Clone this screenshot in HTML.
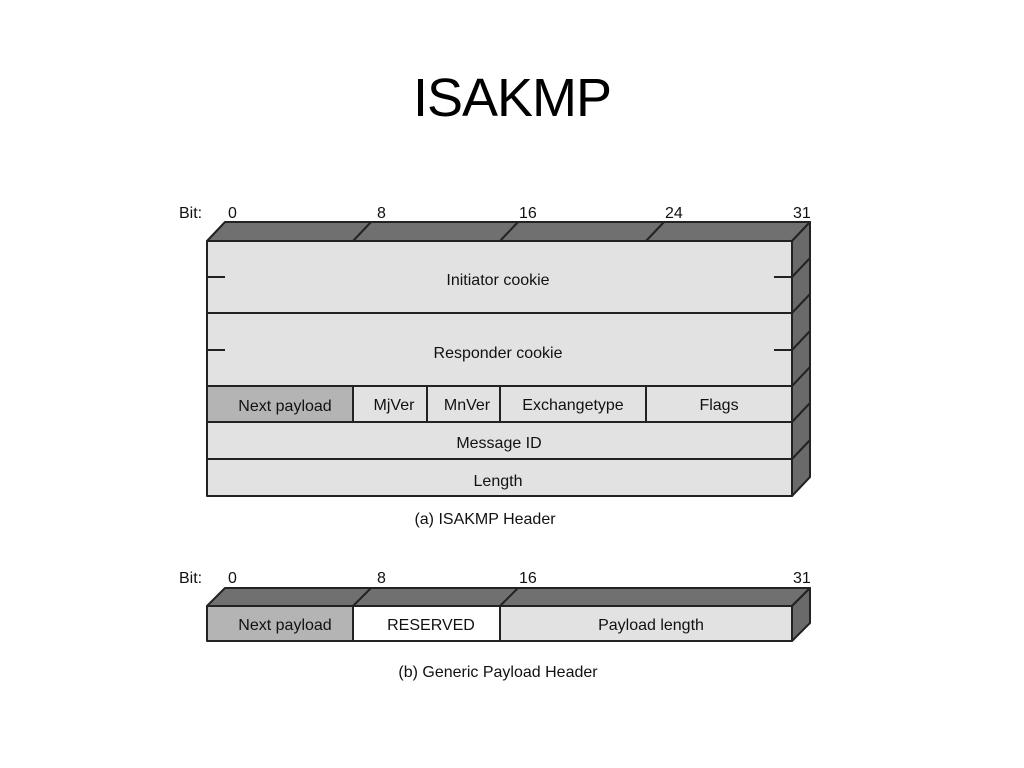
<!DOCTYPE html>
<html><head><meta charset="utf-8"><style>
html,body{margin:0;padding:0;background:#fff;}
svg{display:block}
text{font-family:"Liberation Sans",sans-serif;fill:#111;}
</style></head><body>
<svg width="1024" height="768" viewBox="0 0 1024 768">
<text x="512" y="116" font-size="54" text-anchor="middle" letter-spacing="-1" style="fill:#000">ISAKMP</text>

<!-- Diagram A -->
<g stroke="#222" stroke-width="2" stroke-linejoin="round">
  <polygon points="207,241 225,222 810,222 792,241" fill="#707070"/>
  <polygon points="792,241 810,222 810,477 792,496" fill="#6a6a6a"/>
  <rect x="207" y="241" width="585" height="255" fill="#e2e2e2"/>
  <rect x="207" y="386" width="146" height="36" fill="#b4b4b4"/>
  <line x1="207" y1="313" x2="792" y2="313"/>
  <line x1="207" y1="386" x2="792" y2="386"/>
  <line x1="207" y1="422" x2="792" y2="422"/>
  <line x1="207" y1="459" x2="792" y2="459"/>
  <line x1="353" y1="386" x2="353" y2="422"/>
  <line x1="427" y1="386" x2="427" y2="422"/>
  <line x1="500" y1="386" x2="500" y2="422"/>
  <line x1="646" y1="386" x2="646" y2="422"/>
  <line x1="353" y1="241" x2="371" y2="222"/>
  <line x1="500" y1="241" x2="518" y2="222"/>
  <line x1="646" y1="241" x2="664" y2="222"/>
  <line x1="207" y1="277" x2="225" y2="277"/>
  <line x1="207" y1="350" x2="225" y2="350"/>
  <line x1="774" y1="277" x2="792" y2="277"/>
  <line x1="774" y1="350" x2="792" y2="350"/>
  <line x1="792" y1="277" x2="810" y2="258"/>
  <line x1="792" y1="313" x2="810" y2="294"/>
  <line x1="792" y1="350" x2="810" y2="331"/>
  <line x1="792" y1="386" x2="810" y2="367"/>
  <line x1="792" y1="422" x2="810" y2="403"/>
  <line x1="792" y1="459" x2="810" y2="440"/>
</g>
<g font-size="16">
  <text x="179" y="218">Bit:</text>
  <text x="228" y="218">0</text>
  <text x="377" y="218">8</text>
  <text x="519" y="218">16</text>
  <text x="665" y="218">24</text>
  <text x="793" y="218">31</text>
  <g text-anchor="middle">
  <text x="498" y="285">Initiator cookie</text>
  <text x="498" y="358">Responder cookie</text>
  <text x="285" y="411">Next payload</text>
  <text x="394" y="410">MjVer</text>
  <text x="467" y="410">MnVer</text>
  <text x="573" y="410">Exchangetype</text>
  <text x="719" y="410">Flags</text>
  <text x="499" y="448">Message ID</text>
  <text x="498" y="486">Length</text>
  <text x="485" y="524">(a) ISAKMP Header</text>
  </g>
</g>

<!-- Diagram B -->
<g stroke="#222" stroke-width="2" stroke-linejoin="round">
  <polygon points="207,606 225,588 810,588 792,606" fill="#707070"/>
  <polygon points="792,606 810,588 810,623 792,641" fill="#6a6a6a"/>
  <rect x="207" y="606" width="146" height="35" fill="#b4b4b4"/>
  <rect x="353" y="606" width="147" height="35" fill="#fff"/>
  <rect x="500" y="606" width="292" height="35" fill="#e2e2e2"/>
  <line x1="353" y1="606" x2="371" y2="588"/>
  <line x1="500" y1="606" x2="518" y2="588"/>
</g>
<g font-size="16">
  <text x="179" y="583">Bit:</text>
  <text x="228" y="583">0</text>
  <text x="377" y="583">8</text>
  <text x="519" y="583">16</text>
  <text x="793" y="583">31</text>
  <g text-anchor="middle">
  <text x="285" y="630">Next payload</text>
  <text x="431" y="630">RESERVED</text>
  <text x="651" y="630">Payload length</text>
  <text x="498" y="677">(b) Generic Payload Header</text>
  </g>
</g>
</svg>
</body></html>
